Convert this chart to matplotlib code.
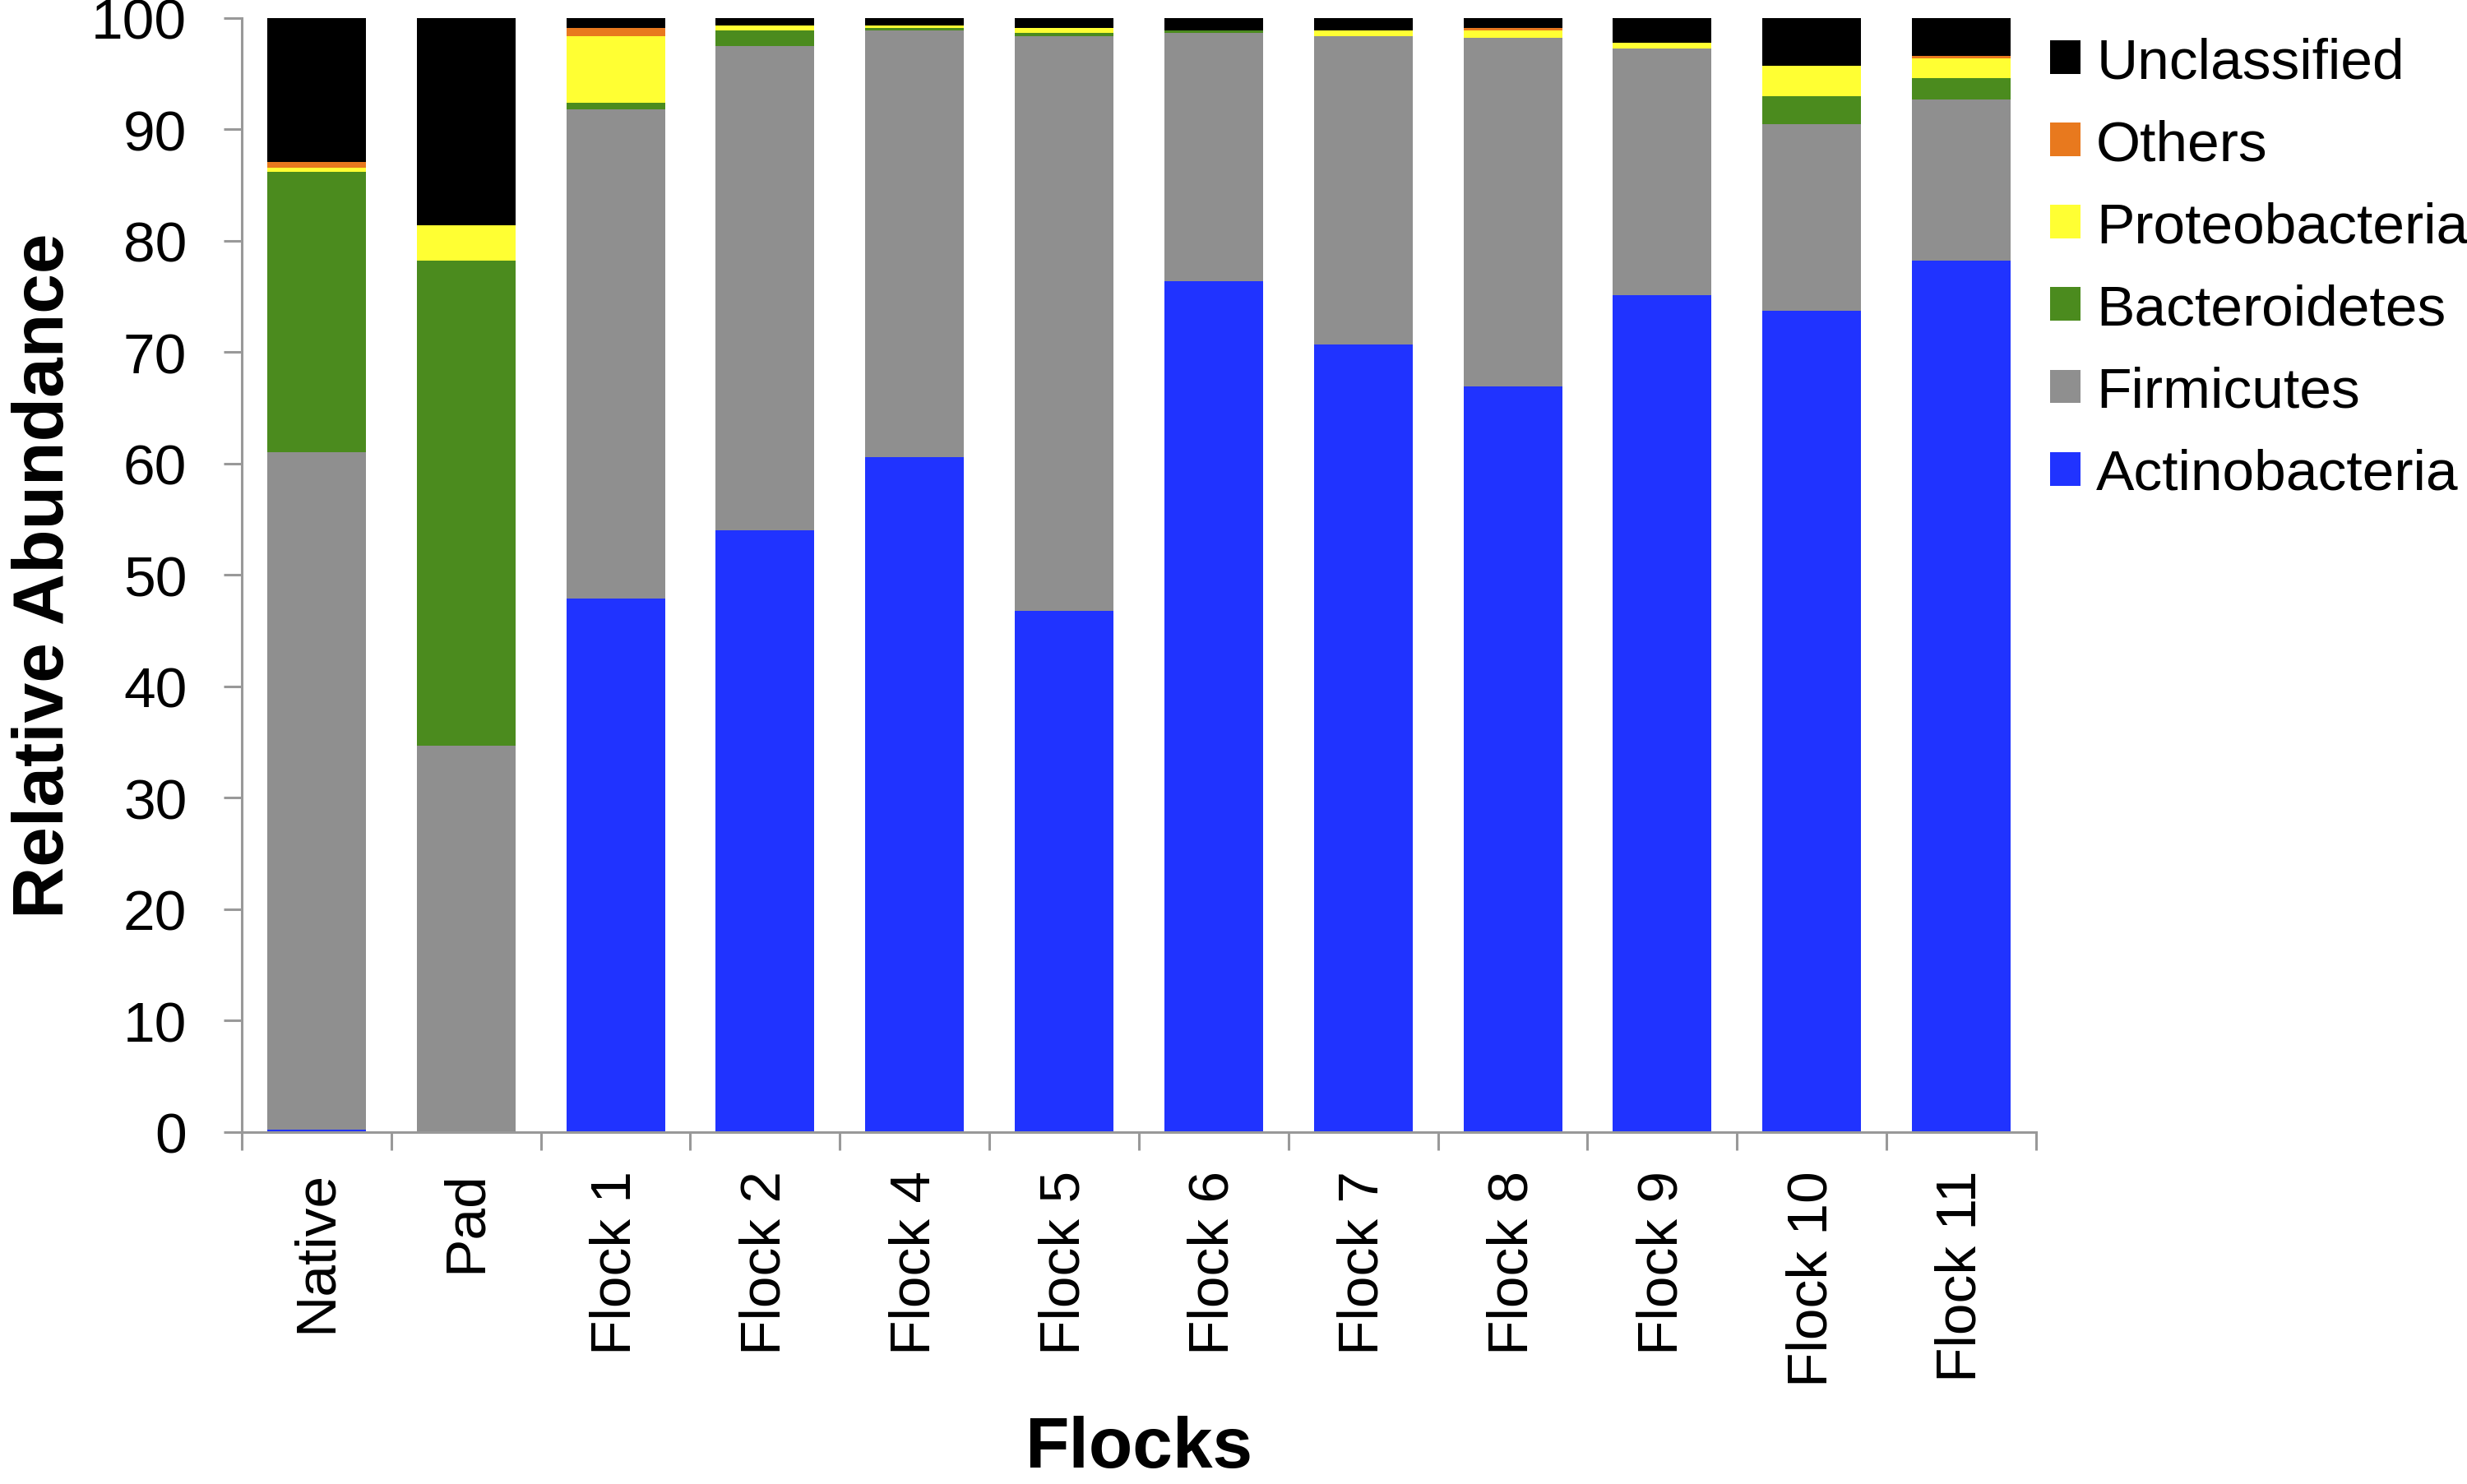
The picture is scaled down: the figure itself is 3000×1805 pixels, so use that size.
import numpy as np
import matplotlib
matplotlib.use("Agg")
import matplotlib.pyplot as plt
from matplotlib.patches import Patch

plt.rcParams['font.family'] = ['Liberation Sans', 'DejaVu Sans']

groups = ['Native', 'Pad', 'Flock 1', 'Flock 2', 'Flock 4', 'Flock 5',
          'Flock 6', 'Flock 7', 'Flock 8', 'Flock 9', 'Flock 10', 'Flock 11']

# relative abundance (%) per phylum
actinobacteria = [0.2, 0.0, 47.9, 54.0, 60.6, 46.8, 76.4, 70.7, 66.9, 75.1, 73.7, 78.2]
firmicutes     = [60.8, 34.7, 43.9, 43.5, 38.3, 51.6, 22.3, 27.7, 31.3, 22.2, 16.8, 14.5]
bacteroidetes  = [25.2, 43.5, 0.6, 1.4, 0.2, 0.3, 0.2, 0.0, 0.0, 0.0, 2.5, 1.9]
proteobacteria = [0.4, 3.2, 6.0, 0.4, 0.2, 0.4, 0.0, 0.5, 0.7, 0.5, 2.7, 1.8]
others         = [0.45, 0.0, 0.7, 0.0, 0.0, 0.0, 0.0, 0.0, 0.2, 0.0, 0.0, 0.2]
unclassified   = [12.95, 18.6, 0.9, 0.7, 0.7, 0.9, 1.1, 1.1, 0.9, 2.2, 4.3, 3.4]

series = [('Actinobacteria', actinobacteria, '#2033ff'),
          ('Firmicutes', firmicutes, '#8f8f8f'),
          ('Bacteroidetes', bacteroidetes, '#4b8b1e'),
          ('Proteobacteria', proteobacteria, '#ffff33'),
          ('Others', others, '#e8791e'),
          ('Unclassified', unclassified, '#000000')]

fig = plt.figure(figsize=(30, 18.06), dpi=100)
ax = fig.add_axes([0.098, 0.237, 0.7273, 0.7503])

x = np.arange(len(groups))
bottom = np.zeros(len(groups))
for name, vals, col in series:
    vals = np.array(vals)
    ax.bar(x, vals, width=0.66, bottom=bottom, color=col, label=name, linewidth=0)
    bottom += vals

ax.set_xlim(-0.5, len(groups) - 0.5)
ax.set_ylim(0, 100)
ax.set_yticks(np.arange(0, 101, 10))

ax.set_xticks(x)
ax.set_xticklabels(groups, rotation=90)
ax.set_xticks(np.arange(-0.5, len(groups), 1), minor=True)
ax.tick_params(axis='x', which='major', length=0, pad=33, labelsize=50)
ax.tick_params(axis='x', which='minor', length=16, width=2.2, color='#999999', direction='out')
ax.tick_params(axis='y', length=16, width=2.2, color='#999999', pad=32, labelsize=50)

for s in ['top', 'right']:
    ax.spines[s].set_visible(False)
for s in ['left', 'bottom']:
    ax.spines[s].set_color('#999999')
    ax.spines[s].set_linewidth(2.2)

ax.set_ylabel('Relative Abundance', fontsize=63, fontweight='bold', va='baseline')
ax.yaxis.set_label_coords(-0.0995, 0.5)
ax.set_xlabel('Flocks', fontsize=63, fontweight='bold', va='baseline')
ax.xaxis.set_label_coords(0.5, -0.3004)

handles = [Patch(facecolor=c, label=n) for n, v, c in series][::-1]
fig.legend(handles=handles, loc='upper left', bbox_to_anchor=(0.831, 0.975),
           frameon=False, fontsize=50, handlelength=0.53, handleheight=0.53,
           handletextpad=0.28, labelspacing=0.52, borderpad=0, borderaxespad=0)

fig.savefig('out.png', dpi=100)
